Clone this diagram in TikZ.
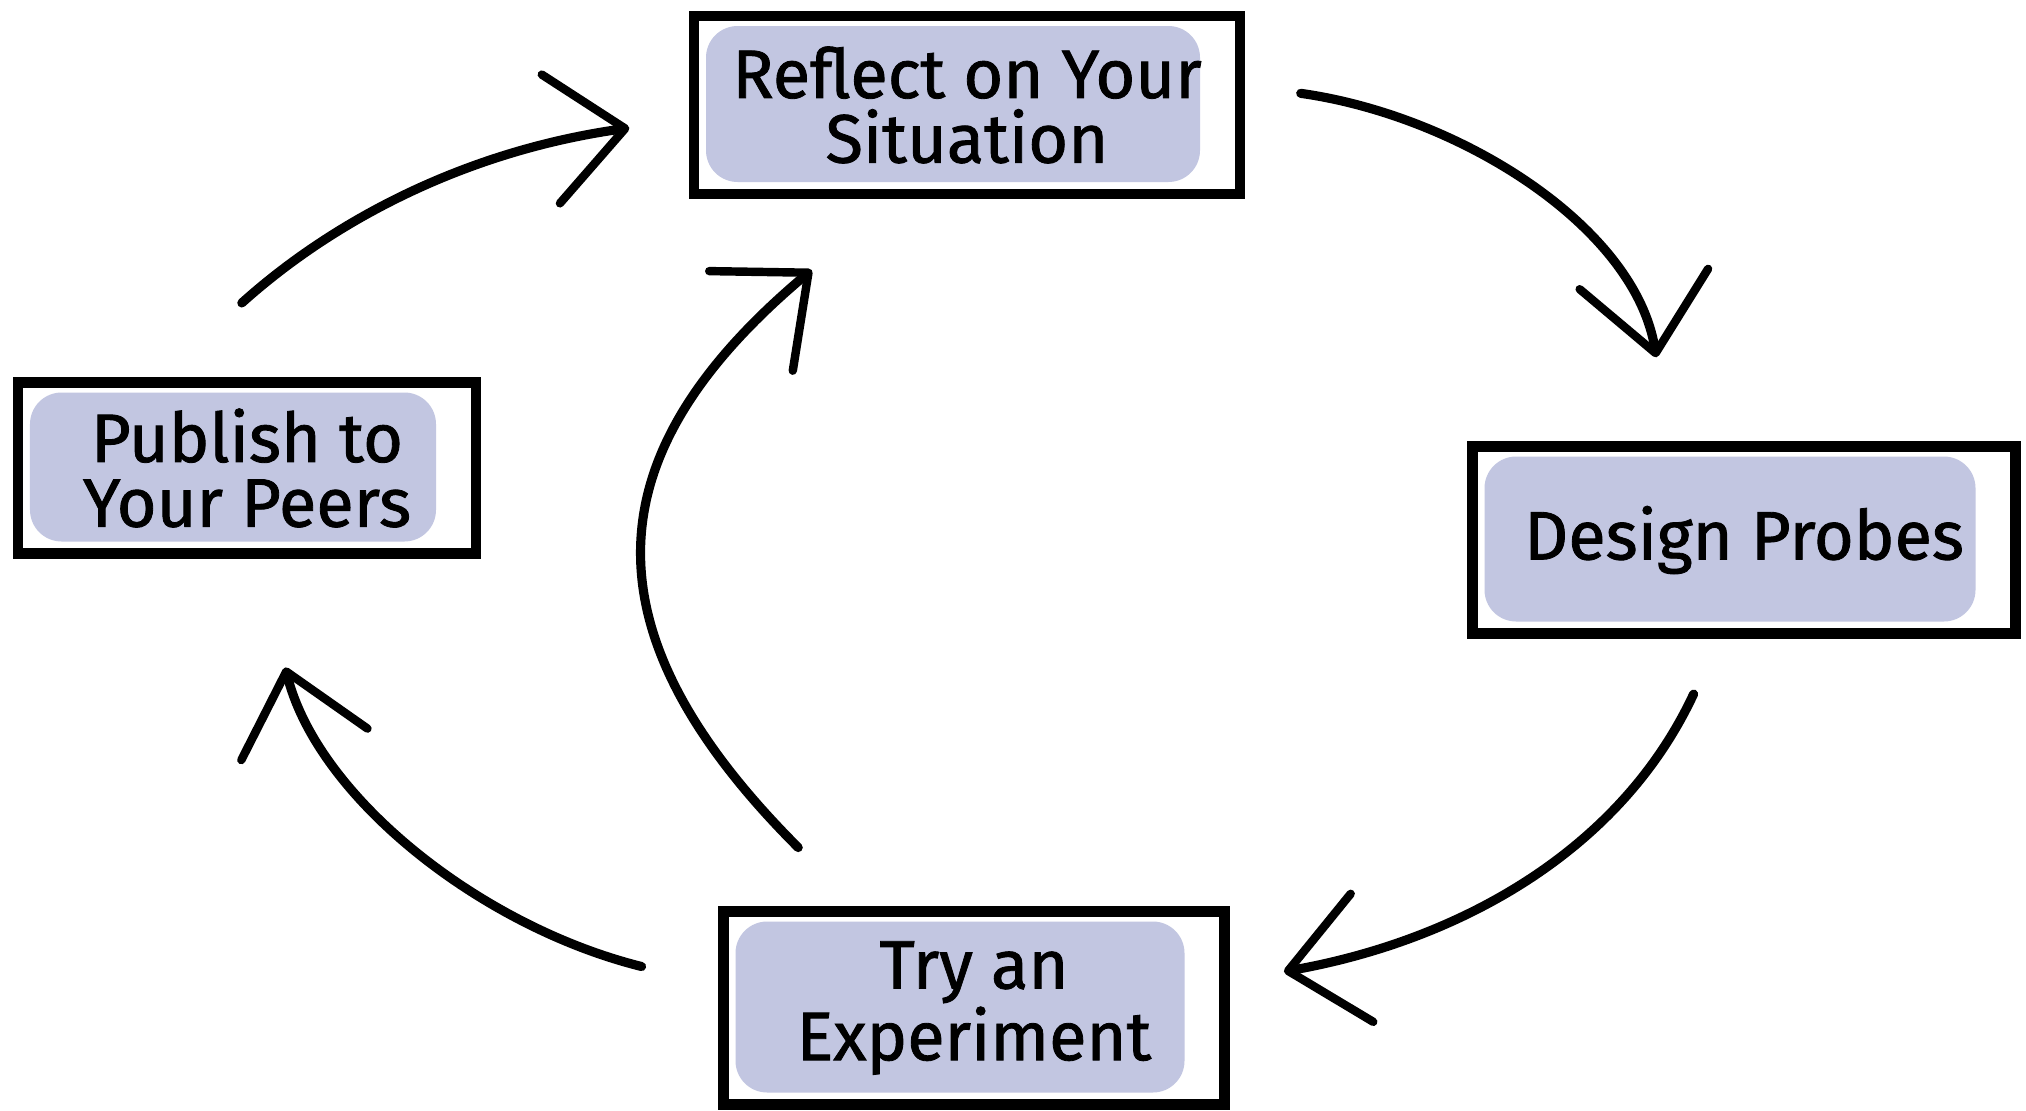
\documentclass[tikz,border=0pt]{standalone}
\usepackage{fontspec}
\setmainfont{Fira Sans}[FakeBold=1.2]
\usepackage{tikz}
\usetikzlibrary{positioning}
\usetikzlibrary{arrows.meta}
\definecolor{blob}{HTML}{C2C6E1}
\tikzset{
 stage/.style={draw=black,line width=3pt,fill=white,align=center,inner sep=0pt,
  font=\fontsize{19.5}{18.4}\selectfont,
  path picture={\fill[blob,rounded corners=9pt]
   ([shift={(0.12,-0.1)}]path picture bounding box.north west) rectangle
   ([shift={(-0.4,0.12)}]path picture bounding box.south east);}},
 flow/.style={line width=2.6pt,line cap=round,
  -{Straight Barb[length=0.75cm,width=1.3cm,line width=2.4pt,round]}}
}
\begin{document}
\begin{tikzpicture}
 \useasboundingbox (0,0) rectangle (20.26,11.10);
 \node[stage,minimum width=5.46cm,minimum height=1.78cm] (reflect) at (9.67,10.05) {Reflect on Your\\Situation};
 \node[stage,minimum width=5.43cm,minimum height=1.87cm] (design) at (17.44,5.70) {Design Probes};
 \node[stage,minimum width=5.01cm,minimum height=1.93cm] (try) at (9.74,1.02) {Try an\\Experiment};
 \node[stage,minimum width=4.58cm,minimum height=1.71cm] (publish) at (2.47,6.42) {Publish to\\Your Peers};
 \draw[flow,shorten <=0.56cm,shorten >=0.85cm] (reflect.4) to[out=-8,in=99] (design.127);
 \draw[flow,shorten <=0.61cm,shorten >=0.55cm] (design.256) to[out=245,in=10] (try.6);
 \draw[flow,shorten <=0.79cm,shorten >=1.12cm] (try.175) to[out=166,in=284] (publish.277);
 \draw[flow,shorten <=1.11cm,shorten >=0.6cm] (publish.134) to[out=42,in=188] (reflect.183);
 \draw[flow,shorten <=0.83cm,shorten >=1.1cm] (try.139) to[out=135,in=220,looseness=1.42] (reflect.233);
\end{tikzpicture}
\end{document}
